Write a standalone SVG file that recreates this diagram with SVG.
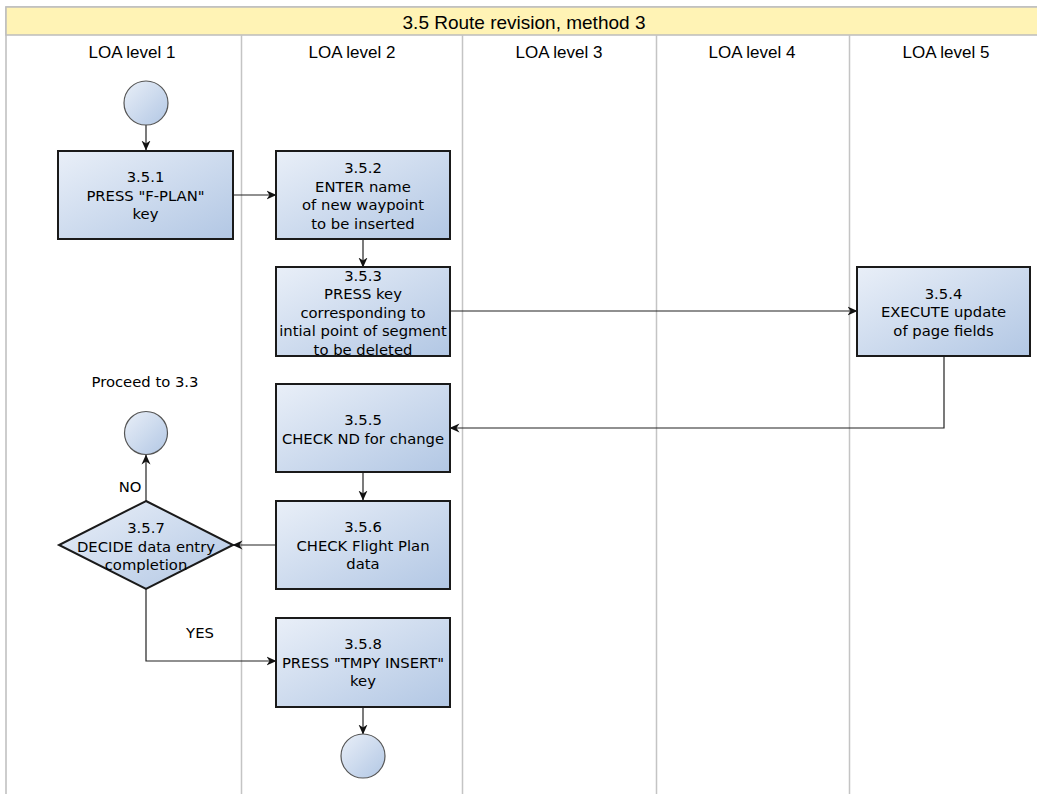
<svg xmlns="http://www.w3.org/2000/svg" width="1037" height="794" viewBox="0 0 1037 794">
  <defs>
    <linearGradient id="fill" x1="0" y1="0" x2="1" y2="1">
      <stop offset="0" stop-color="#e9eff8"/>
      <stop offset="1" stop-color="#b2c7e4"/>
    </linearGradient>
    <marker id="arrow" viewBox="0 0 10 10" refX="9.5" refY="5" markerWidth="10" markerHeight="10" markerUnits="userSpaceOnUse" orient="auto">
      <path d="M0,0.5 L10,5 L0,9.5 L3,5 z" fill="#111"/>
    </marker>
  </defs>
  <style>
    .pool { fill: #ffffff; stroke: #bdbdbd; stroke-width: 1.5; }
    .header { fill: #fff3b5; stroke: #bdbdbd; stroke-width: 1.5; }
    .lane { stroke: #c4c4c4; stroke-width: 1.5; fill: none; }
    .title { font-family: "Liberation Sans", Arial, sans-serif; font-size: 19px; fill: #000; text-anchor: middle; }
    .lanelabel { font-family: "Liberation Sans", Arial, sans-serif; font-size: 17px; fill: #000; text-anchor: middle; }
    .box { fill: url(#fill); stroke: #1a1a1a; stroke-width: 2; }
    .term { fill: url(#fill); stroke: #555; stroke-width: 1.2; }
    .t { font-family: "DejaVu Sans", Verdana, sans-serif; font-size: 14.8px; fill: #000; text-anchor: middle; }
    .edge { fill: none; stroke: #222; stroke-width: 1.2; marker-end: url(#arrow); }
  </style>

  <!-- pool and lanes -->
  <rect class="pool" x="6" y="7" width="1045" height="800"/>
  <rect class="header" x="6" y="7" width="1045" height="28"/>
  <text class="title" x="524" y="29">3.5 Route revision, method 3</text>
  <g id="lanes">
    <line class="lane" x1="241.5" y1="35" x2="241.5" y2="794"/>
    <line class="lane" x1="462.5" y1="35" x2="462.5" y2="794"/>
    <line class="lane" x1="656.5" y1="35" x2="656.5" y2="794"/>
    <line class="lane" x1="849.5" y1="35" x2="849.5" y2="794"/>
    <text class="lanelabel" x="132" y="58">LOA level 1</text>
    <text class="lanelabel" x="352" y="58">LOA level 2</text>
    <text class="lanelabel" x="559" y="58">LOA level 3</text>
    <text class="lanelabel" x="752" y="58">LOA level 4</text>
    <text class="lanelabel" x="946" y="58">LOA level 5</text>
  </g>

  <!-- connectors -->
  <g id="connectors">
    <path class="edge" d="M146,125 L146,150"/>
    <path class="edge" d="M233,195 L276,195"/>
    <path class="edge" d="M363,239 L363,267"/>
    <path class="edge" d="M450,311 L857,311"/>
    <path class="edge" d="M944,356 L944,428 L450,428"/>
    <path class="edge" d="M363,472 L363,500"/>
    <path class="edge" d="M276,545 L233,545"/>
    <path class="edge" d="M146,501 L146,455"/>
    <path class="edge" d="M146,589 L146,661 L276,661"/>
    <path class="edge" d="M363,707 L363,734"/>
    <text class="t" x="130" y="492">NO</text>
    <text class="t" x="200" y="638">YES</text>
  </g>

  <!-- nodes -->
  <g id="start">
    <circle class="term" cx="146" cy="103" r="22"/>
  </g>
  <g id="n351">
    <rect class="box" x="58" y="151" width="175" height="88"/>
    <text class="t" x="145.5" y="182">3.5.1</text>
    <text class="t" x="145.5" y="200.5">PRESS "F-PLAN"</text>
    <text class="t" x="145.5" y="219">key</text>
  </g>
  <g id="n352">
    <rect class="box" x="276" y="151" width="174" height="88"/>
    <text class="t" x="363" y="173">3.5.2</text>
    <text class="t" x="363" y="191.5">ENTER name</text>
    <text class="t" x="363" y="210">of new waypoint</text>
    <text class="t" x="363" y="228.5">to be inserted</text>
  </g>
  <g id="n353">
    <rect class="box" x="276" y="267" width="174" height="89"/>
    <text class="t" x="363" y="280.5">3.5.3</text>
    <text class="t" x="363" y="299">PRESS key</text>
    <text class="t" x="363" y="317.5">corresponding to</text>
    <text class="t" x="363" y="336">intial point of segment</text>
    <text class="t" x="363" y="354.5">to be deleted</text>
  </g>
  <g id="n354">
    <rect class="box" x="857" y="267" width="173" height="89"/>
    <text class="t" x="943.5" y="298.5">3.5.4</text>
    <text class="t" x="943.5" y="317">EXECUTE update</text>
    <text class="t" x="943.5" y="335.5">of page fields</text>
  </g>
  <g id="proceed">
    <text class="t" x="145" y="387">Proceed to 3.3</text>
    <circle class="term" cx="146" cy="433" r="21.5"/>
  </g>
  <g id="n355">
    <rect class="box" x="276" y="384" width="174" height="88"/>
    <text class="t" x="363" y="425">3.5.5</text>
    <text class="t" x="363" y="443.5">CHECK ND for change</text>
  </g>
  <g id="n356">
    <rect class="box" x="276" y="501" width="174" height="88"/>
    <text class="t" x="363" y="532">3.5.6</text>
    <text class="t" x="363" y="550.5">CHECK Flight Plan</text>
    <text class="t" x="363" y="569">data</text>
  </g>
  <g id="n357">
    <path class="box" d="M146,501 L233,545 L146,589 L59,545 z"/>
    <text class="t" x="146" y="533">3.5.7</text>
    <text class="t" x="146" y="551.5">DECIDE data entry</text>
    <text class="t" x="146" y="570">completion</text>
  </g>
  <g id="n358">
    <rect class="box" x="276" y="618" width="174" height="89"/>
    <text class="t" x="363" y="649">3.5.8</text>
    <text class="t" x="363" y="667.5">PRESS "TMPY INSERT"</text>
    <text class="t" x="363" y="686">key</text>
  </g>
  <g id="end">
    <circle class="term" cx="363" cy="756" r="22"/>
  </g>
</svg>
